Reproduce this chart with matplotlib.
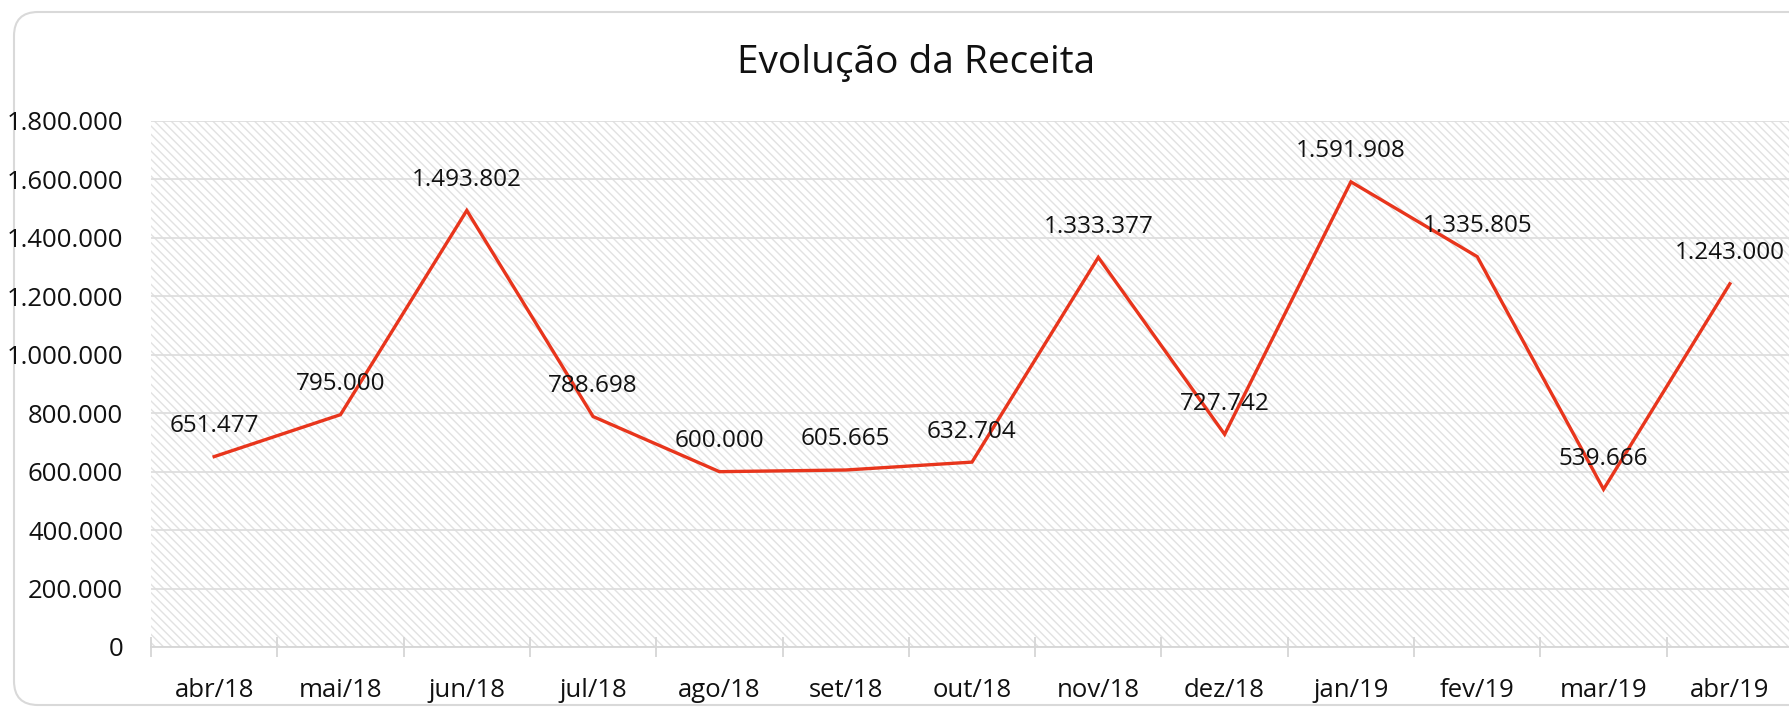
import matplotlib
matplotlib.use("Agg")
import matplotlib.pyplot as plt
from matplotlib.patches import Rectangle, FancyBboxPatch
from matplotlib.ticker import FixedLocator, FuncFormatter

plt.rcParams['font.family'] = ['Open Sans', 'DejaVu Sans']
plt.rcParams['hatch.linewidth'] = 1.0

meses = ['abr/18', 'mai/18', 'jun/18', 'jul/18', 'ago/18', 'set/18', 'out/18',
         'nov/18', 'dez/18', 'jan/19', 'fev/19', 'mar/19', 'abr/19']
receita = [651477, 795000, 1493802, 788698, 600000, 605665, 632704,
           1333377, 727742, 1591908, 1335805, 539666, 1243000]
y_ticks = [0, 200000, 400000, 600000, 800000, 1000000, 1200000, 1400000, 1600000, 1800000]


def br(v):
    return f"{v:,.0f}".replace(',', '.')


W, H = 1790, 708
fig = plt.figure(figsize=(W / 100, H / 100), dpi=100)

# background axis in pixel units, only for the rounded border
bg = fig.add_axes([0, 0, 1, 1], zorder=-1)
bg.set_xlim(0, W)
bg.set_ylim(H, 0)
bg.axis('off')
bg.add_patch(FancyBboxPatch((14, 12), W + 100, H - 15,
                            boxstyle="round,pad=0,rounding_size=24",
                            facecolor='white', edgecolor='#d9d9d9', linewidth=1.5))

ax = fig.add_axes([151 / W, 1 - 647 / H, 1642 / W, (647 - 121) / H])
ax.set_facecolor('none')

hatch = Rectangle((0, 0), 1, 1, transform=ax.transAxes, facecolor='white',
                  edgecolor='#e2e2e2', hatch='\\\\\\\\', linewidth=0, zorder=0.1)
ax.add_patch(hatch)

x = list(range(len(meses)))
ax.plot(x, receita, color='#e8351c', linewidth=2.4, zorder=3, solid_joinstyle='miter')

for xi, v in zip(x, receita):
    ax.annotate(br(v), (xi, v), xytext=(0, 22), textcoords='offset points',
                ha='center', va='center', fontsize=17.5, color='#111111', zorder=4)

ax.set_xlim(-0.5, len(meses) - 0.5)
ax.set_ylim(0, 1800000)
ax.set_yticks(y_ticks)
ax.yaxis.set_major_formatter(FuncFormatter(lambda v, p: br(v)))
ax.grid(axis='y', color='#dedede', linewidth=1.3)
ax.set_axisbelow(True)

ax.set_xticks(x)
ax.set_xticklabels(meses)
ax.xaxis.set_minor_locator(FixedLocator([i - 0.5 for i in range(len(meses) + 1)]))
ax.tick_params(axis='x', which='major', length=0, pad=22, labelsize=18.5, labelcolor='#111111')
ax.tick_params(axis='x', which='minor', direction='inout', length=14, width=1.3, color='#d6d6d6')
ax.tick_params(axis='y', length=0, pad=20, labelsize=18.5, labelcolor='#111111')

for s in ['top', 'right', 'left']:
    ax.spines[s].set_visible(False)
ax.spines['bottom'].set_color('#d6d6d6')
ax.spines['bottom'].set_linewidth(1.3)

fig.text(916 / W, 1 - 63 / H, 'Evolução da Receita', ha='center', va='center',
         fontsize=28, color='#111111')

fig.savefig('out.png', dpi=100)
